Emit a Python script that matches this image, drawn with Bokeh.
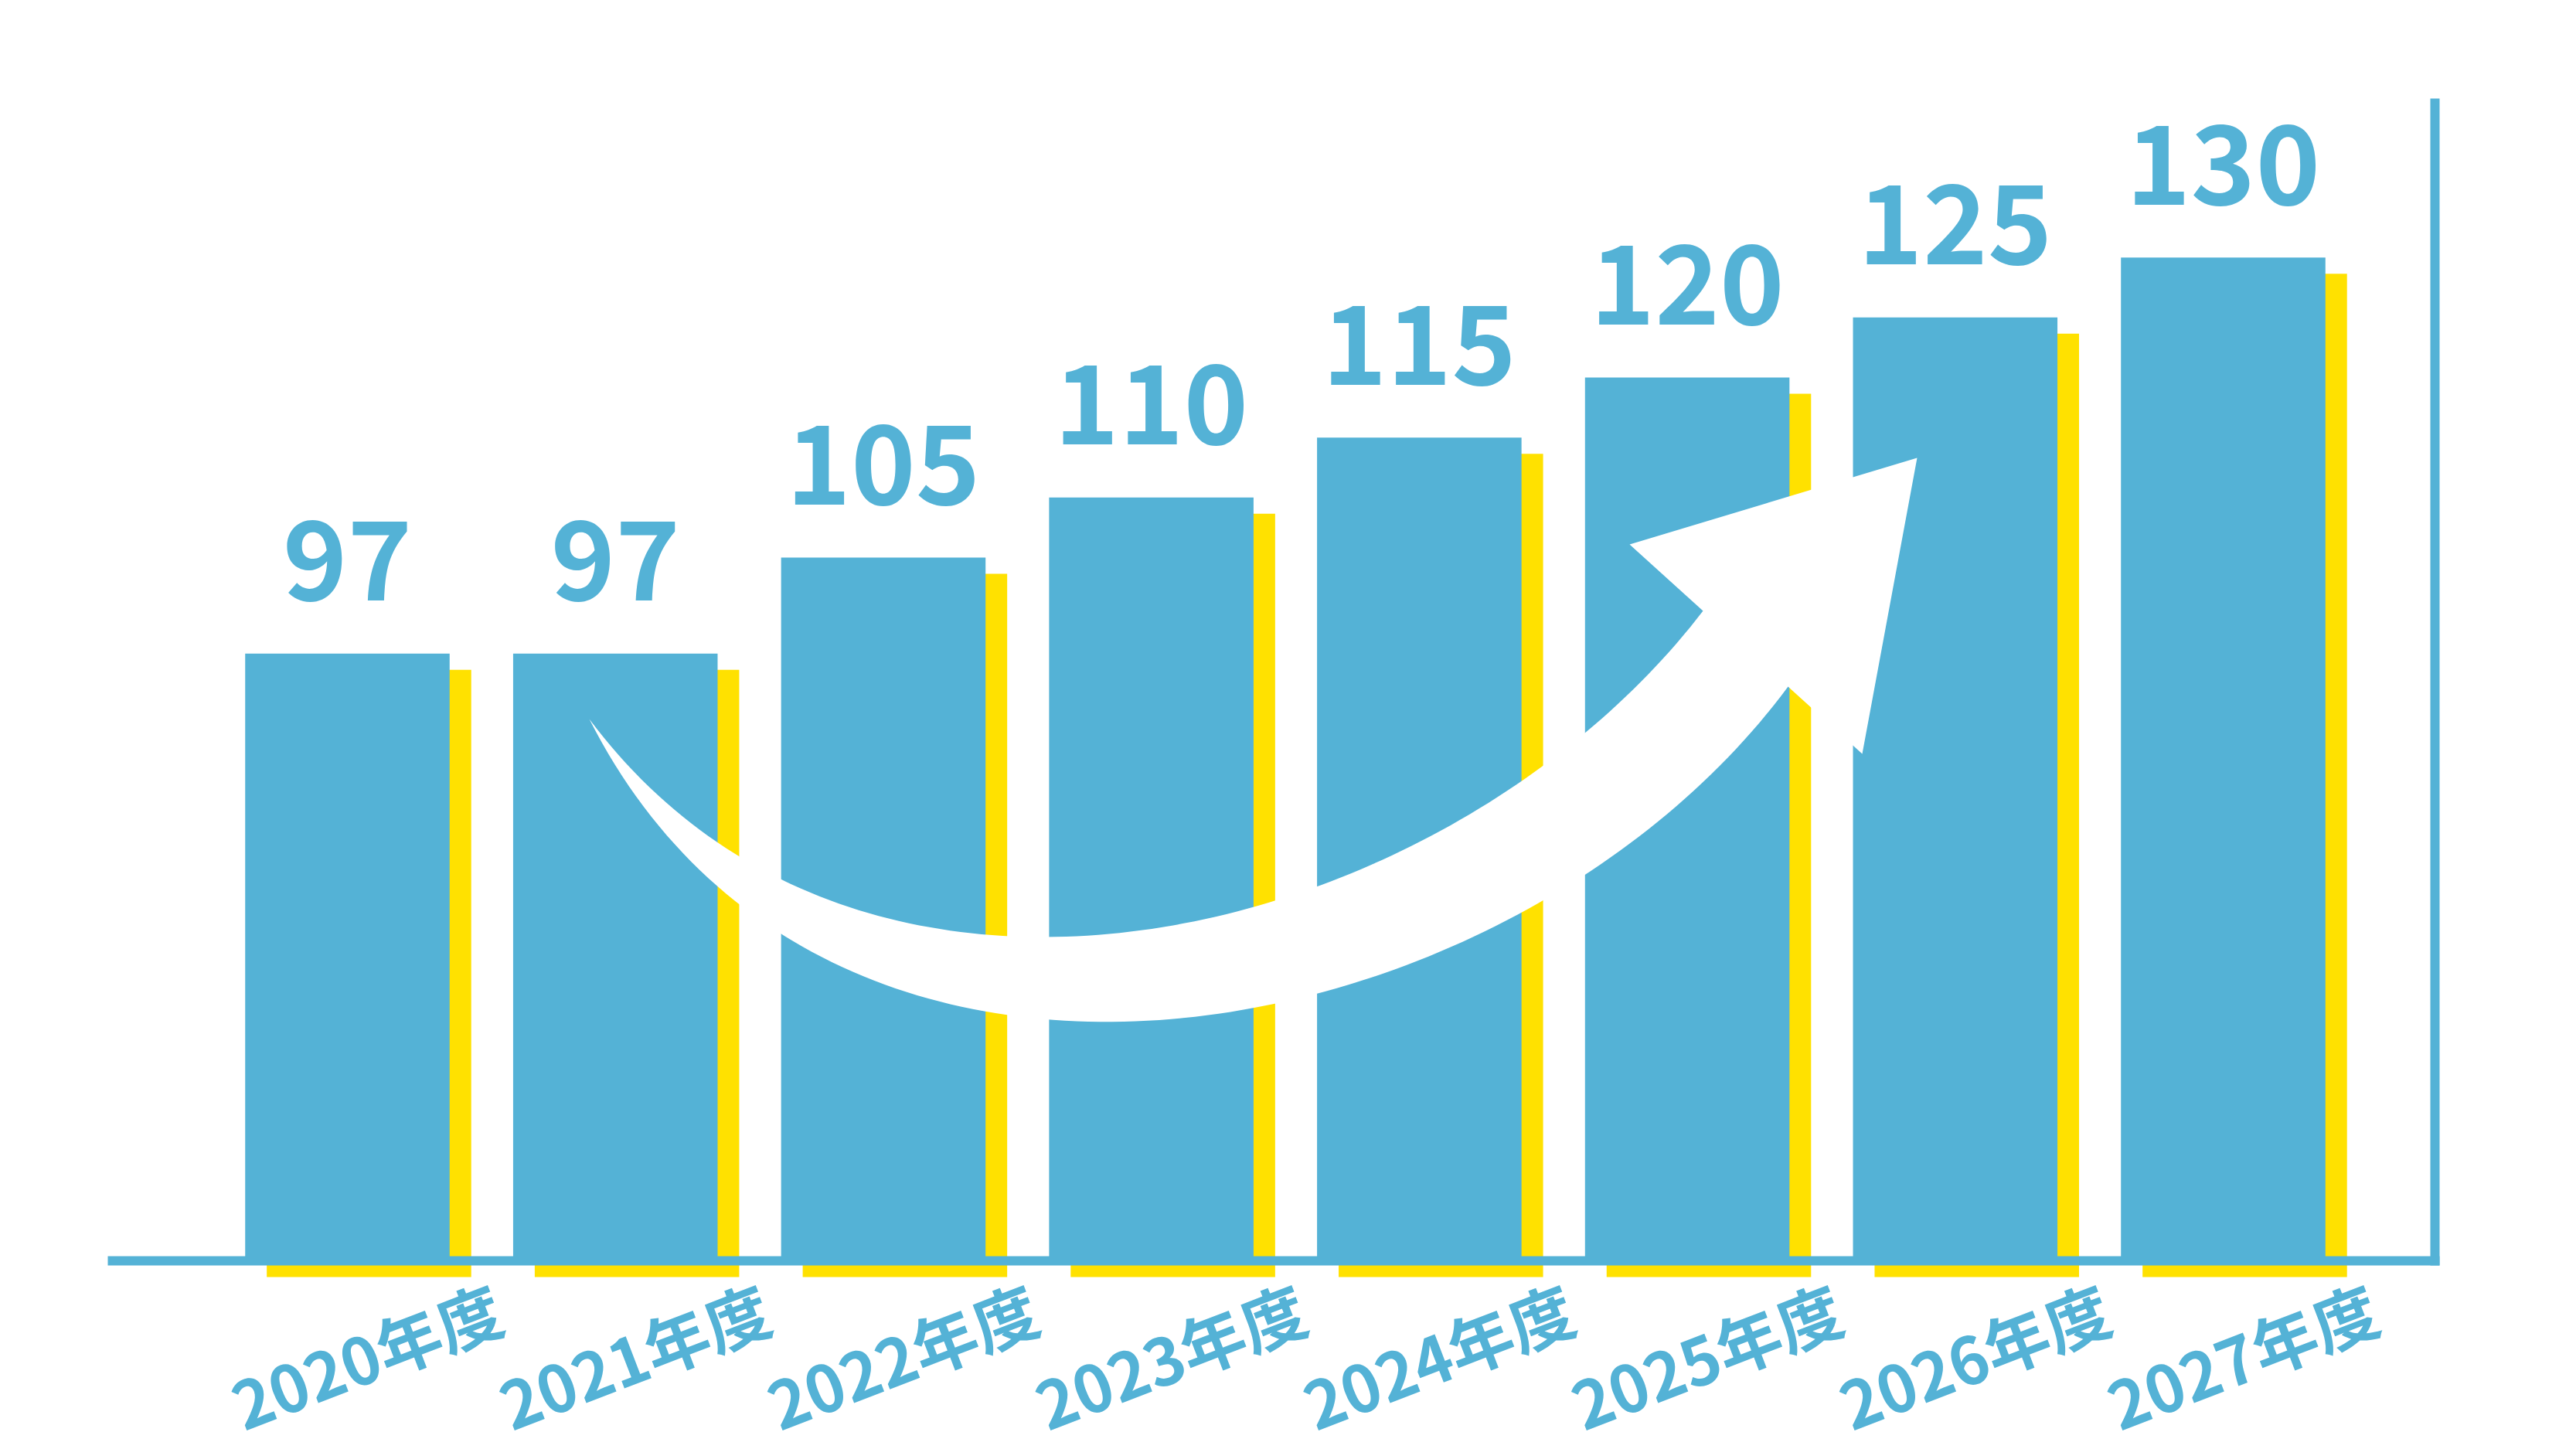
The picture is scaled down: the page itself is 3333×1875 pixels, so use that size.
import numpy as np
from bokeh.plotting import figure
from bokeh.models import (ColumnDataSource, FactorRange, Range1d, CategoricalAxis,
                          LinearAxis, FixedTicker, LabelSet)
from bokeh.transform import dodge
from bokeh.core.properties import value
from bokeh.embed import file_html
from bokeh.resources import INLINE

# ---------------- data ----------------
years = ["2020年度", "2021年度", "2022年度", "2023年度",
         "2024年度", "2025年度", "2026年度", "2027年度"]
values = [97, 97, 105, 110, 115, 120, 125, 130]
value_labels = [str(v) for v in values]

# ---------------- style ----------------
BLUE = "#54B2D6"
YELLOW = "#FFE100"
FONT = "Noto Sans CJK JP"
W, H = 3325, 1867
BASE = 46.4                 # value at the baseline of the (truncated) value axis
PX_Y = 15.53                # pixels per value unit
Y_END = BASE + 1631 / PX_Y
Y_START = Y_END - H / PX_Y
HALF_PAD = 0.795            # category units of padding on each side
n = len(years)
PAD = 2 * HALF_PAD / n      # FactorRange padding (percent)
X_START = -HALF_PAD
PX_X = W / (n + 2 * HALF_PAD)
BAR_W = 0.763
SHADOW_DX = 0.0806          # shadow offset in category units
SHADOW_DY = 1.352           # shadow offset in value units

p = figure(width=W, height=H,
           x_range=FactorRange(factors=years, range_padding=PAD),
           y_range=Range1d(Y_START, Y_END),
           x_axis_location=None, y_axis_location=None,
           toolbar_location=None, output_backend="svg",
           min_border=0, outline_line_color=None,
           background_fill_color="white", border_fill_color="white")
for g in p.grid:
    g.visible = False

src = ColumnDataSource(dict(year=years, value=values, label=value_labels))

# yellow shadow bars
p.vbar(x=dodge("year", SHADOW_DX, range=p.x_range), top=dodge("value", -SHADOW_DY),
       bottom=BASE - SHADOW_DY, width=BAR_W, source=src,
       fill_color=YELLOW, line_color=None)
# blue bars
p.vbar(x="year", top="value", bottom=BASE, width=BAR_W, source=src,
       fill_color=BLUE, line_color=None)

# ---------------- decorative white arrow (outline traced in reference pixels) ----------------
ARROW_UPPER = [(762, 930), (832, 1008), (926, 1090), (1006, 1136), (1113, 1182),
               (1269, 1210), (1349, 1214), (1450, 1207), (1600, 1179), (1692, 1150),
               (1830, 1094), (1957, 1012), (2036, 952), (2117, 887), (2203, 790)]
ARROW_HEAD = [(2108, 704), (2480, 592), (2409, 975)]
ARROW_LOWER = [(2313, 888), (2231, 979), (2174, 1037), (2036, 1131), (1957, 1180),
               (1830, 1243), (1692, 1289), (1600, 1310), (1427, 1325), (1349, 1323),
               (1269, 1311), (1113, 1266), (1006, 1205), (926, 1144), (832, 1036),
               (762, 930)]


def bezier_fit(pts, k=120):
    P = np.asarray(pts, float)
    d = np.r_[0, np.cumsum(np.hypot(*np.diff(P, axis=0).T))]
    t = d / d[-1]
    B = np.stack([(1 - t) ** 3, 3 * t * (1 - t) ** 2, 3 * t ** 2 * (1 - t), t ** 3], axis=1)
    P0, P3 = P[0], P[-1]
    R = P - np.outer(B[:, 0], P0) - np.outer(B[:, 3], P3)
    C, *_ = np.linalg.lstsq(B[:, 1:3], R, rcond=None)
    tt = np.linspace(0, 1, k)[:, None]
    return ((1 - tt) ** 3 * P0 + 3 * tt * (1 - tt) ** 2 * C[0]
            + 3 * tt ** 2 * (1 - tt) * C[1] + tt ** 3 * P3)


outline = np.vstack([bezier_fit(ARROW_UPPER), np.asarray(ARROW_HEAD, float),
                     bezier_fit(ARROW_LOWER)])
ax = X_START + outline[:, 0] / PX_X
ay = Y_END - outline[:, 1] / PX_Y
p.patch(list(ax), list(ay), fill_color="white", line_color=None)

# ---------------- value labels ----------------
p.text(x="year", y=dodge("value", 7.8), text="label", source=src,
       text_align="center", text_baseline="alphabetic",
       text_font=value(FONT), text_font_style="bold", text_font_size="142px",
       text_color=BLUE)

# ---------------- category labels (rotated) ----------------
cat_labels = LabelSet(x=dodge("year", 0.07, range=p.x_range), y=38.6, text="year",
                      source=src, angle=np.deg2rad(21),
                      text_align="center", text_baseline="middle",
                      text_font=value(FONT), text_font_style="bold",
                      text_font_size="84px", text_color=BLUE)
p.add_layout(cat_labels)

# ---------------- axis lines ----------------
xa = CategoricalAxis(fixed_location=BASE, bounds=(-0.394, 8.308),
                     ticker=FixedTicker(ticks=[]),
                     axis_line_color=BLUE, axis_line_width=12,
                     major_tick_line_color=None, minor_tick_line_color=None,
                     major_label_text_font_size="0px")
p.add_layout(xa, "below")

ya = LinearAxis(fixed_location=8.289, bounds=(46.01, 143.25),
                ticker=FixedTicker(ticks=[]),
                axis_line_color=BLUE, axis_line_width=12,
                major_tick_line_color=None, minor_tick_line_color=None,
                major_label_text_font_size="0px")
p.add_layout(ya, "right")

open("out.html", "w").write(file_html(p, INLINE))
